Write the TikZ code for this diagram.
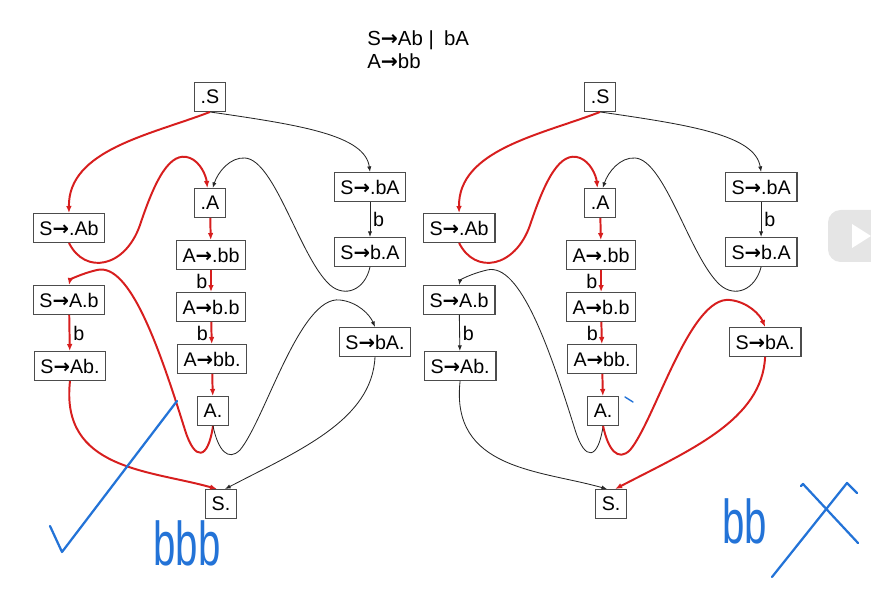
\documentclass[tikz,border=0pt]{standalone}
\usepackage{fontspec}
\setmainfont{Liberation Sans}
\newfontfamily\arrowfont{DejaVu Sans}
\usetikzlibrary{arrows.meta}

\definecolor{hotred}{RGB}{215,30,30}
\definecolor{penblue}{RGB}{35,115,215}
\newcommand\ra{{\arrowfont\bfseries →}}

\begin{document}
\begin{tikzpicture}[
    x=0.025cm, y=-0.025cm,
    item/.style={rectangle, draw=black!70, line width=0.8pt, fill=white, font=\fontsize{14}{16}\selectfont, minimum height=0.72cm, inner xsep=4.5pt},
    hot/.style={draw=hotred, line width=1.4pt, -{Latex[length=5pt,width=4pt]}},
    cold/.style={draw=black!85, line width=0.6pt, -{Latex[length=4pt,width=3pt]}},
    sym/.style={font=\fontsize{14}{16}\selectfont, inner sep=2pt},
    ink/.style={draw=penblue, line width=1.6pt, line cap=round, line join=round},
    inktext/.style={text=penblue, font=\fontsize{44}{44}\selectfont}
]
\useasboundingbox (0,0) rectangle (871,597);

% Grammar
\node[anchor=north west, align=left, inner sep=0pt, font=\fontsize{14.5}{16.5}\selectfont] (grammar) at (367,30) {S\ra Ab |\enspace bA\\A\ra bb};

% Left panel
\node[item] (start_l) at (210,97) {.S};
\node[item] (sdotab_l) at (69,228) {S\ra.Ab};
\node[item] (dota_l) at (210,203) {.A};
\node[item] (adotbb_l) at (211,255) {A\ra.bb};
\node[item] (abdotb_l) at (211,307) {A\ra b.b};
\node[item] (abbdot_l) at (212,359) {A\ra bb.};
\node[item] (adot_l) at (213,411) {A.};
\node[item] (sdotba_l) at (370,187) {S\ra.bA};
\node[item] (sbdota_l) at (370,252) {S\ra b.A};
\node[item] (sadotb_l) at (69,300) {S\ra A.b};
\node[item] (sabdot_l) at (70,366) {S\ra Ab.};
\node[item] (sbadot_l) at (375,342) {S\ra bA.};
\node[item] (sdot_l) at (221,504) {S.};

% Left panel connections
\draw[hot] (start_l.south) .. controls (150,135) and (68,150) .. (sdotab_l.north);
\draw[cold] (start_l.south) .. controls (300,125) and (365,135) .. (sdotba_l.north);
\draw[hot] (sdotab_l.south) .. controls (85,275) and (125,268) .. (140,225) .. controls (155,180) and (170,150) .. (190,158) .. controls (200,162) and (206,175) .. (dota_l.100);
\draw[cold] (sbdota_l.south) .. controls (365,290) and (345,298) .. (330,285) .. controls (300,258) and (275,160) .. (245,158) .. controls (230,157) and (218,172) .. (dota_l.80);
\draw[hot] (dota_l) -- (adotbb_l);
\draw[hot] (adotbb_l) -- node[left, sym] {b} (abdotb_l);
\draw[hot] (abdotb_l) -- node[left, sym] {b} (abbdot_l);
\draw[hot] (abbdot_l) -- (adot_l);
\draw[cold] (sdotba_l) -- node[right, sym] {b} (sbdota_l);
\draw[hot] (adot_l.south) .. controls (208,460) and (195,462) .. (185,430) .. controls (160,350) and (130,262) .. (97,270) .. controls (80,274) and (70,280) .. (sadotb_l.north);
\draw[hot] (sadotb_l) -- node[right, sym] {b} (sabdot_l);
\draw[hot] (sabdot_l.south) .. controls (60,470) and (150,470) .. (sdot_l.105);
\draw[cold] (adot_l.south) .. controls (218,450) and (228,462) .. (240,450) .. controls (265,420) and (300,295) .. (340,300) .. controls (358,302) and (370,315) .. (sbadot_l.north);
\draw[cold] (sbadot_l.south) .. controls (372,420) and (300,450) .. (sdot_l.75);

% Right panel
\begin{scope}[xshift=9.75cm]
\node[item] (start_r) at (210,97) {.S};
\node[item] (sdotab_r) at (69,228) {S\ra.Ab};
\node[item] (dota_r) at (210,203) {.A};
\node[item] (adotbb_r) at (211,255) {A\ra.bb};
\node[item] (abdotb_r) at (211,307) {A\ra b.b};
\node[item] (abbdot_r) at (212,359) {A\ra bb.};
\node[item] (adot_r) at (213,411) {A.};
\node[item] (sdotba_r) at (371,187) {S\ra.bA};
\node[item] (sbdota_r) at (371,252) {S\ra b.A};
\node[item] (sadotb_r) at (69,300) {S\ra A.b};
\node[item] (sabdot_r) at (70,366) {S\ra Ab.};
\node[item] (sbadot_r) at (375,342) {S\ra bA.};
\node[item] (sdot_r) at (221,504) {S.};

% Right panel connections
\draw[hot] (start_r.south) .. controls (150,135) and (68,150) .. (sdotab_r.north);
\draw[cold] (start_r.south) .. controls (300,125) and (365,135) .. (sdotba_r.north);
\draw[hot] (sdotab_r.south) .. controls (85,275) and (125,268) .. (140,225) .. controls (155,180) and (170,150) .. (190,158) .. controls (200,162) and (206,175) .. (dota_r.100);
\draw[cold] (sbdota_r.south) .. controls (365,290) and (345,298) .. (330,285) .. controls (300,258) and (275,160) .. (245,158) .. controls (230,157) and (218,172) .. (dota_r.80);
\draw[hot] (dota_r) -- (adotbb_r);
\draw[hot] (adotbb_r) -- node[left, sym] {b} (abdotb_r);
\draw[hot] (abdotb_r) -- node[left, sym] {b} (abbdot_r);
\draw[hot] (abbdot_r) -- (adot_r);
\draw[cold] (sdotba_r) -- node[right, sym] {b} (sbdota_r);
\draw[cold] (adot_r.south) .. controls (208,460) and (195,462) .. (185,430) .. controls (160,350) and (130,262) .. (97,270) .. controls (80,274) and (70,280) .. (sadotb_r.north);
\draw[cold] (sadotb_r) -- node[right, sym] {b} (sabdot_r);
\draw[cold] (sabdot_r.south) .. controls (60,470) and (150,470) .. (sdot_r.105);
\draw[hot] (adot_r.south) .. controls (218,450) and (228,462) .. (240,450) .. controls (265,420) and (300,295) .. (340,300) .. controls (358,302) and (370,315) .. (sbadot_r.north);
\draw[hot] (sbadot_r.south) .. controls (372,420) and (300,450) .. (sdot_r.75);
\end{scope}

% Player button
\fill[black!10, rounded corners=9pt] (828,210) rectangle (895,262);
\fill[white] (852,224) -- (852,248) -- (871,236) -- cycle;

% Pen marks
\draw[ink] (50,526) -- (62,552) -- (177,401);
\node[inktext] (bbb) at (187,543) {\scalebox{0.65}[1]{bbb}};
\node[inktext] (bb) at (745,521) {\scalebox{0.65}[1]{bb}};
\draw[ink] (772,577) -- (847,483) -- (857,493);
\draw[ink] (801,486) -- (803,484) -- (858,543);
\draw[ink, line width=1pt] (625,397) -- (633,402);

\end{tikzpicture}
\end{document}
